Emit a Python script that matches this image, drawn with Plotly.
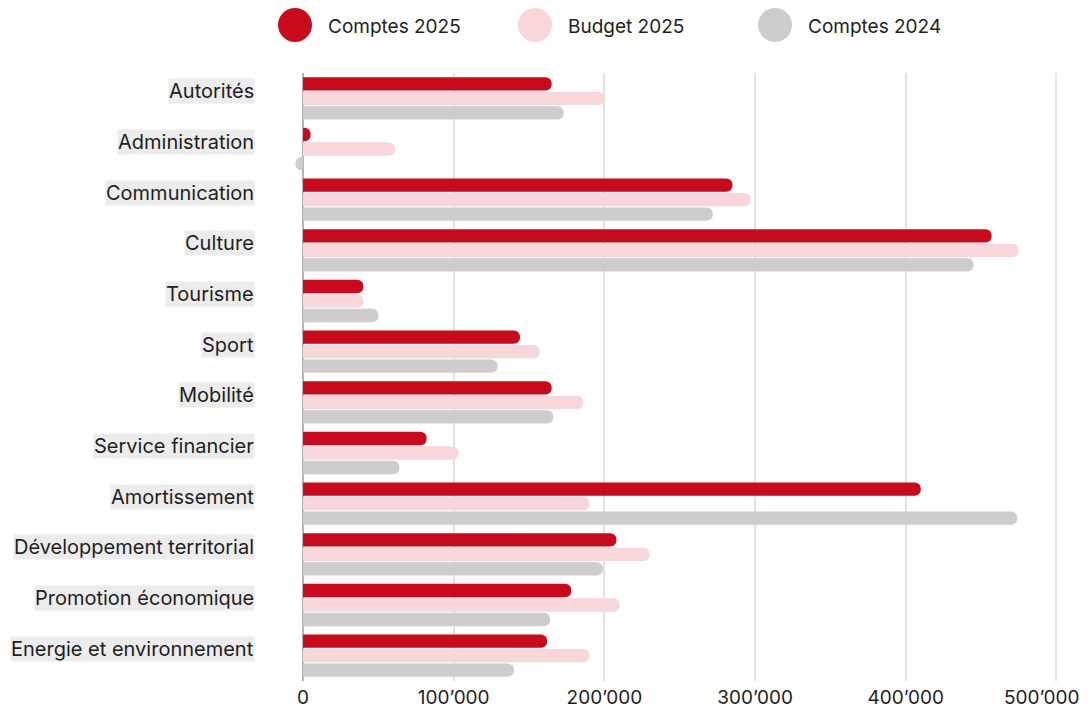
import plotly.graph_objects as go

categories = ["Autorités", "Administration", "Communication", "Culture", "Tourisme",
              "Sport", "Mobilité", "Service financier", "Amortissement",
              "Développement territorial", "Promotion économique",
              "Energie et environnement"]
comptes_2025 = [165000, 5000, 285000, 457000, 40000, 144000, 165000, 82000,
                410000, 208000, 178000, 162000]
budget_2025 = [200000, 61000, 297000, 475000, 40000, 157000, 186000, 103000,
               190000, 230000, 210000, 190000]
comptes_2024 = [173000, -5000, 272000, 445000, 50000, 129000, 166000, 64000,
                474000, 199000, 164000, 140000]
series_names = ["Comptes 2025", "Budget 2025", "Comptes 2024"]
tick_values = [0, 100000, 200000, 300000, 400000, 500000]
tick_labels = ["0", "100’000", "200’000", "300’000", "400’000", "500’000"]

colors = ["#c80a1c", "#f9d6d9", "#cdcdcd"]
FONT = "Inter, Roboto, sans-serif"

OFF = 8  # page body margin
W, H = 1090, 708
ML, MT = 291 - OFF, 73 - OFF
PR, PB = 1079 - OFF, 681 - OFF
MR, MB = W - PR, H - PB
PW, PH = PR - ML, PB - MT


def px_x(px):
    return (px - OFF - ML) / PW


def px_y(py):
    return (PB - (py - OFF)) / PH


fig = go.Figure()
for name, vals, col in zip(series_names, [comptes_2025, budget_2025, comptes_2024], colors):
    fig.add_trace(go.Bar(
        y=categories, x=vals, name=name, orientation="h",
        marker=dict(color=col, line=dict(width=0)),
        showlegend=False,
    ))

annotations = []
for cat in categories:
    annotations.append(dict(
        x=0, xref="paper", y=cat, yref="y", xanchor="right", yanchor="middle",
        xshift=-36, yshift=7, text=cat, showarrow=False,
        bgcolor="#ececec", borderpad=0,
        font=dict(family=FONT, size=20, color="#1e1e1e"),
    ))

shapes = []
legend_px = [295, 535, 775]
for name, col, cx in zip(series_names, colors, legend_px):
    shapes.append(dict(
        type="circle", xref="paper", yref="paper",
        xsizemode="pixel", ysizemode="pixel",
        xanchor=px_x(cx), yanchor=px_y(25),
        x0=-17, x1=17, y0=-17, y1=17,
        fillcolor=col, line=dict(width=0),
    ))
    annotations.append(dict(
        x=px_x(cx + 31), xref="paper", y=px_y(26), yref="paper",
        xanchor="left", yanchor="middle", text=name, showarrow=False,
        font=dict(family=FONT, size=19, color="#1e1e1e"),
    ))

# last tick label drawn as an annotation, nudged left so it stays inside the page
axis_text = list(tick_labels[:-1]) + [""]
annotations.append(dict(
    x=tick_values[-1], xref="x", y=px_y(697), yref="paper",
    xanchor="center", yanchor="middle", xshift=-14,
    text=tick_labels[-1], showarrow=False,
    font=dict(family=FONT, size=19, color="#1e1e1e"),
))

fig.update_layout(
    width=W, height=H,
    margin=dict(l=ML, r=MR, t=MT, b=MB, autoexpand=False),
    paper_bgcolor="white", plot_bgcolor="white",
    barmode="group", bargap=0.14, bargroupgap=0.08,
    barcornerradius="50%",
    font=dict(family=FONT, size=18, color="#1e1e1e"),
    annotations=annotations, shapes=shapes,
    xaxis=dict(
        range=[-8000, 515000], tickvals=tick_values, ticktext=axis_text,
        showgrid=True, gridcolor="#e2e2e2", gridwidth=1.5,
        zeroline=True, zerolinecolor="#b5b5b5", zerolinewidth=1.5,
        showline=False, ticks="", ticklabeloverflow="allow", automargin=False,
        ticklabelstandoff=3,
        tickfont=dict(family=FONT, size=19, color="#1e1e1e"),
    ),
    yaxis=dict(
        autorange="reversed", showticklabels=False, showgrid=False,
        zeroline=False, showline=False, ticks="", automargin=False,
    ),
)

fig.write_html("out.html")
